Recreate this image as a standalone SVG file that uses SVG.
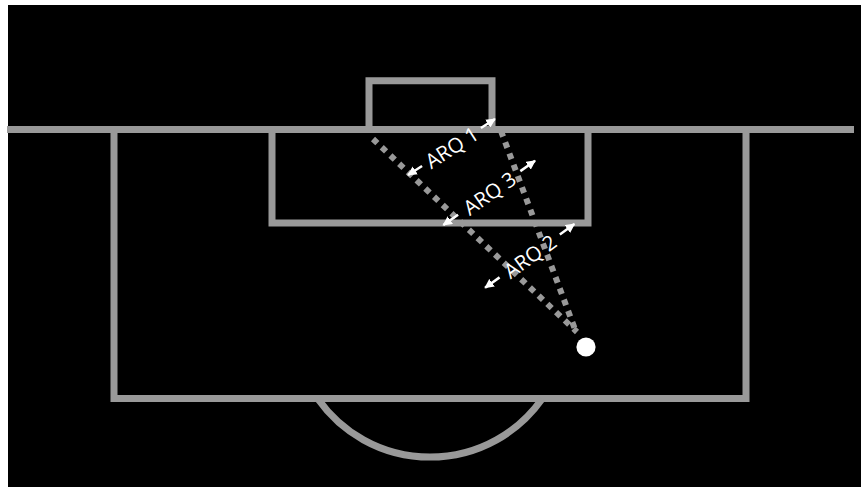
<svg xmlns="http://www.w3.org/2000/svg" width="861" height="487" viewBox="0 0 861 487">
  <defs>
    <style>
      .pitch { fill: none; stroke: #999999; stroke-width: 7; }
      .dot { fill: none; stroke: #999999; stroke-width: 6; stroke-dasharray: 6 6; }
      .arr { stroke: #ffffff; stroke-width: 2.5; fill: none; marker-end: url(#head); }
      .lbl { fill: #ffffff; font-family: "Open Sans", "Liberation Sans", sans-serif; font-size: 20.5px; text-anchor: middle; dominant-baseline: central; }
    </style>
    <marker id="head" viewBox="0 0 10 10" refX="9" refY="5" markerWidth="3.8" markerHeight="3.8" orient="auto" markerUnits="strokeWidth">
      <path d="M0,0 L10,5 L0,10 z" fill="#ffffff"/>
    </marker>
  </defs>
  <rect x="0" y="0" width="861" height="487" fill="#ffffff"/>
  <rect x="8" y="5" width="853" height="482" fill="#000000"/>

  <g id="pitch">
    <line class="pitch" x1="7" y1="129.5" x2="854" y2="129.5"/>
    <polyline class="pitch" points="114,129.5 114,398.5 746,398.5 746,129.5"/>
    <polyline class="pitch" points="272,129.5 272,223 588,223 588,129.5"/>
    <polyline class="pitch" points="369,129.5 369,80.7 492,80.7 492,129.5"/>
    <path class="pitch" d="M318,399 A137,137 0 0 0 542,399"/>
  </g>

  <g id="connectors">
    <line class="dot" x1="373" y1="139" x2="577" y2="332"/>
    <line class="dot" x1="501" y1="131" x2="576" y2="332"/>
  </g>

  <g id="ball">
    <circle cx="586" cy="347" r="9.6" fill="#ffffff"/>
  </g>

  <g id="arq1" transform="translate(451.5,147) rotate(-32.8)">
    <line class="arr" x1="-35" y1="0" x2="-51.7" y2="0"/>
    <line class="arr" x1="35" y1="0" x2="51.7" y2="0"/>
    <text class="lbl" x="0" y="0">ARQ 1</text>
  </g>

  <g id="arq3" transform="translate(489.2,192.9) rotate(-35)">
    <line class="arr" x1="-38" y1="0" x2="-56" y2="0"/>
    <line class="arr" x1="38" y1="0" x2="56" y2="0"/>
    <text class="lbl" x="0" y="0">ARQ 3</text>
  </g>

  <g id="arq2" transform="translate(529.7,255.9) rotate(-35.5)">
    <line class="arr" x1="-37" y1="0" x2="-54.8" y2="0"/>
    <line class="arr" x1="37" y1="0" x2="54.8" y2="0"/>
    <text class="lbl" x="0" y="0">ARQ 2</text>
  </g>
</svg>
